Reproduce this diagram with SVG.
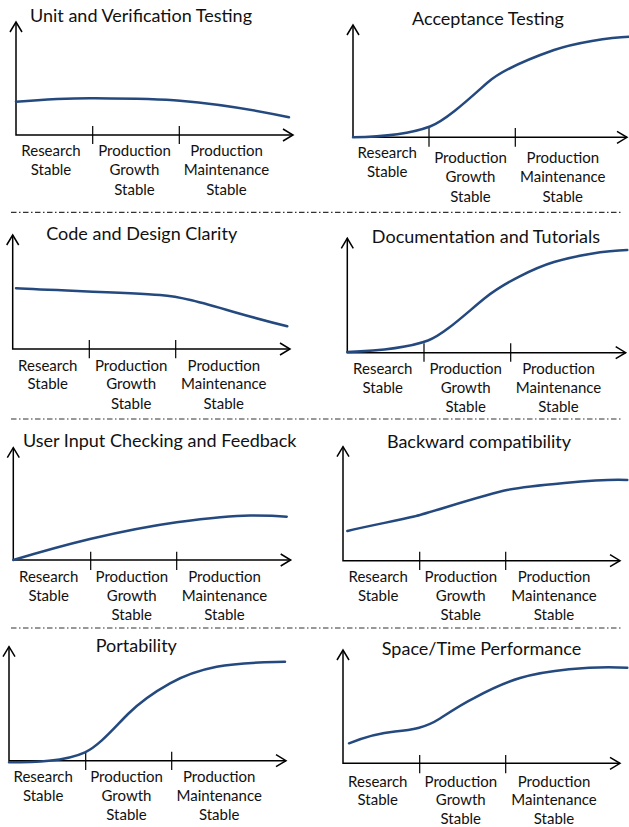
<svg xmlns="http://www.w3.org/2000/svg" width="629" height="827" viewBox="0 0 629 827">
<style>
text{font-family:Lato,"Open Sans","Liberation Sans",sans-serif;fill:#111;}
.t{font-size:18px;text-anchor:middle;}
.l{font-size:15px;text-anchor:middle;}
.ax{fill:none;stroke:#000;stroke-width:1.5;marker-start:url(#arr);marker-end:url(#arr);}
.tk{stroke:#000;stroke-width:1.2;}
.cv{fill:none;stroke:#24497f;stroke-width:2.5;stroke-linecap:round;}
.sep{stroke:#333;stroke-width:1.2;stroke-dasharray:5.5 2.5 1.5 2.5;}
</style>
<defs>
<marker id="arr" viewBox="-12 -7 14 14" markerWidth="14" markerHeight="14" refX="0" refY="0" markerUnits="userSpaceOnUse" orient="auto-start-reverse">
<path d="M-10,-6 L0,0 L-10,6" fill="none" stroke="#000" stroke-width="1.5"/>
</marker>
</defs>
<g id="separators">
<line class="sep" x1="11" y1="212.3" x2="622" y2="212.3"/>
<line class="sep" x1="11" y1="419" x2="622" y2="419"/>
<line class="sep" x1="11" y1="628" x2="622" y2="628"/>
</g>
<g id="unit-verification">
<text class="t" x="141" y="22">Unit and Verification Testing</text>
<path class="ax" d="M16,22 L16,135 L293,135"/>
<line class="tk" x1="92.7" y1="126" x2="92.7" y2="144"/>
<line class="tk" x1="179.3" y1="126" x2="179.3" y2="144"/>
<path class="cv" d="M16,101.7 C45,99.5 70,98 95,98.3 C130,98.6 160,99 180,100.7 C220,104 255,110 289,117.3"/>
<text class="l" x="51" y="156">Research</text><text class="l" x="51" y="175">Stable</text>
<text class="l" x="134.5" y="156">Production</text><text class="l" x="134.5" y="175">Growth</text><text class="l" x="134.5" y="194.5">Stable</text>
<text class="l" x="226.5" y="156">Production</text><text class="l" x="226.5" y="175">Maintenance</text><text class="l" x="226.5" y="194.5">Stable</text>
</g>
<g id="acceptance">
<text class="t" x="488" y="25">Acceptance Testing</text>
<path class="ax" d="M353,25 L353,137.3 L627,137.3"/>
<line class="tk" x1="429" y1="128" x2="429" y2="146.7"/>
<line class="tk" x1="515.3" y1="128" x2="515.3" y2="146.7"/>
<path class="cv" d="M353,137.3 C385,136.8 410,134 430,126.5 C446,120.5 470,98 487,83 C502,69.8 534,57 554,50 C574,43 610,37.2 629,36.7"/>
<text class="l" x="387.3" y="158">Research</text><text class="l" x="387.3" y="177">Stable</text>
<text class="l" x="470.5" y="163">Production</text><text class="l" x="470.5" y="182">Growth</text><text class="l" x="470.5" y="201.5">Stable</text>
<text class="l" x="562.8" y="163">Production</text><text class="l" x="562.8" y="182">Maintenance</text><text class="l" x="562.8" y="201.5">Stable</text>
</g>
<g id="code-design">
<text class="t" x="141.7" y="240">Code and Design Clarity</text>
<path class="ax" d="M12.7,235 L12.7,349 L290,349"/>
<line class="tk" x1="89.3" y1="340" x2="89.3" y2="358.3"/>
<line class="tk" x1="175.7" y1="340" x2="175.7" y2="358.3"/>
<path class="cv" d="M16,288.3 C60,290.5 130,293 160,295 C180,296.5 200,302 233,311.7 C255,318 270,322 287.3,326.3"/>
<text class="l" x="47.8" y="370.7">Research</text><text class="l" x="47.8" y="389.3">Stable</text>
<text class="l" x="131.2" y="370.7">Production</text><text class="l" x="131.2" y="389.3">Growth</text><text class="l" x="131.2" y="409">Stable</text>
<text class="l" x="223.8" y="370.7">Production</text><text class="l" x="223.8" y="389.3">Maintenance</text><text class="l" x="223.8" y="409">Stable</text>
</g>
<g id="documentation">
<text class="t" x="486" y="242.7">Documentation and Tutorials</text>
<path class="ax" d="M347.3,238.3 L347.3,352.7 L625.7,352.7"/>
<line class="tk" x1="424" y1="343.3" x2="424" y2="361.7"/>
<line class="tk" x1="510.7" y1="343.3" x2="510.7" y2="361.7"/>
<path class="cv" d="M347.3,352 C375,351 405,349 428,340.5 C444,334.6 468,311.6 485,298 C503,283.6 534,268 554,262 C574,256 605,250.5 627.3,250"/>
<text class="l" x="382.8" y="374.3">Research</text><text class="l" x="382.8" y="392.7">Stable</text>
<text class="l" x="465.7" y="374.3">Production</text><text class="l" x="465.7" y="392.7">Growth</text><text class="l" x="465.7" y="412.3">Stable</text>
<text class="l" x="558.5" y="374.3">Production</text><text class="l" x="558.5" y="392.7">Maintenance</text><text class="l" x="558.5" y="412.3">Stable</text>
</g>
<g id="user-input">
<text class="t" x="159.7" y="447.3">User Input Checking and Feedback</text>
<path class="ax" d="M13.3,447.7 L13.3,560 L290.7,560"/>
<line class="tk" x1="90.7" y1="551.7" x2="90.7" y2="570"/>
<line class="tk" x1="176.7" y1="551.7" x2="176.7" y2="570"/>
<path class="cv" d="M13.3,560 C40,552 65,545 90,539 C120,532 150,526 176.7,522.3 C205,518.5 235,515.5 250,515.5 C265,515.5 278,516 286.7,516.7"/>
<text class="l" x="48.7" y="581.7">Research</text><text class="l" x="48.7" y="600.7">Stable</text>
<text class="l" x="131.8" y="581.7">Production</text><text class="l" x="131.8" y="600.7">Growth</text><text class="l" x="131.8" y="620">Stable</text>
<text class="l" x="224.5" y="581.7">Production</text><text class="l" x="224.5" y="600.7">Maintenance</text><text class="l" x="224.5" y="620">Stable</text>
</g>
<g id="backward">
<text class="t" x="479" y="448.3">Backward compatibility</text>
<path class="ax" d="M343,446.7 L343,560.7 L620,560.7"/>
<line class="tk" x1="419.7" y1="551.7" x2="419.7" y2="570"/>
<line class="tk" x1="505.7" y1="551.7" x2="505.7" y2="570"/>
<path class="cv" d="M347.3,531 C370,525.5 398,520.5 414,516.5 C430,512.5 487,494 507,490 C527,486 600,478.5 627.3,480"/>
<text class="l" x="378.2" y="581.7">Research</text><text class="l" x="378.2" y="600.7">Stable</text>
<text class="l" x="460.8" y="581.7">Production</text><text class="l" x="460.8" y="600.7">Growth</text><text class="l" x="460.8" y="620">Stable</text>
<text class="l" x="554" y="581.7">Production</text><text class="l" x="554" y="600.7">Maintenance</text><text class="l" x="554" y="620">Stable</text>
</g>
<g id="portability">
<text class="t" x="136.3" y="651.7">Portability</text>
<path class="ax" d="M9,646.7 L9,760.7 L286,760.7"/>
<line class="tk" x1="85.7" y1="751.7" x2="85.7" y2="770"/>
<line class="tk" x1="171.7" y1="751.7" x2="171.7" y2="770"/>
<path class="cv" d="M9,762.3 C34,762.3 65,761.5 85,752.3 C99,745.9 114,728 128,714 C142,700 156,691.1 170,683.3 C185.6,674.6 201.1,669.7 216.7,666.7 C239.5,662.4 262.2,662.4 285,661.7"/>
<text class="l" x="43.2" y="781.7">Research</text><text class="l" x="43.2" y="801">Stable</text>
<text class="l" x="126.5" y="781.7">Production</text><text class="l" x="126.5" y="801">Growth</text><text class="l" x="126.5" y="820">Stable</text>
<text class="l" x="219.2" y="781.7">Production</text><text class="l" x="219.2" y="801">Maintenance</text><text class="l" x="219.2" y="820">Stable</text>
</g>
<g id="space-time">
<text class="t" x="481.5" y="655">Space/Time Performance</text>
<path class="ax" d="M343,650 L343,763.3 L620,763.3"/>
<line class="tk" x1="419.7" y1="755" x2="419.7" y2="773.3"/>
<line class="tk" x1="505.7" y1="755" x2="505.7" y2="773.3"/>
<path class="cv" d="M349,743.3 C365,737 378,733 395,731.5 C412,730 425,728 440,718.5 C450,712 462,704 474,698.1 C487,691 500,684 520,678 C545,670.5 590,665.5 627.3,667.7"/>
<text class="l" x="377.8" y="786.7">Research</text><text class="l" x="377.8" y="805">Stable</text>
<text class="l" x="460.8" y="786.7">Production</text><text class="l" x="460.8" y="805">Growth</text><text class="l" x="460.8" y="824">Stable</text>
<text class="l" x="554" y="786.7">Production</text><text class="l" x="554" y="805">Maintenance</text><text class="l" x="554" y="824">Stable</text>
</g>
</svg>
